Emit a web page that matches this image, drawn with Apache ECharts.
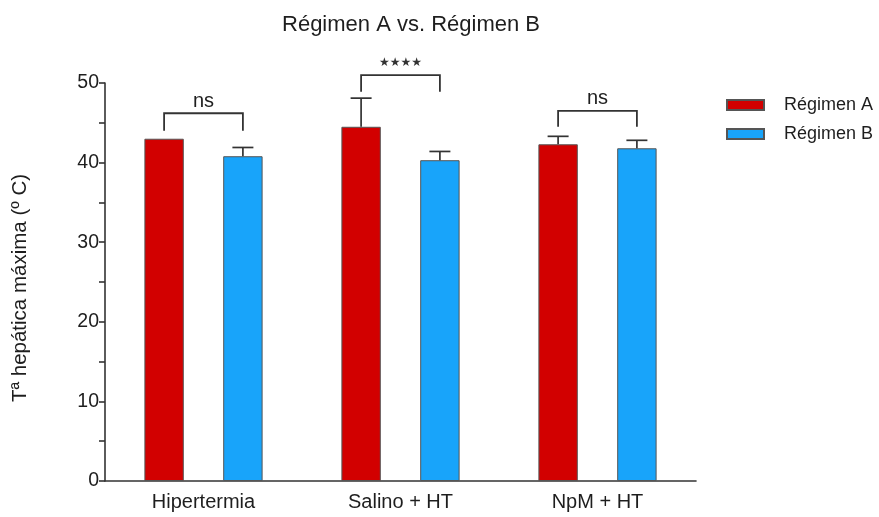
<!DOCTYPE html>
<html><head><meta charset="utf-8">
<script src="https://cdn.jsdelivr.net/npm/echarts@6/dist/echarts.min.js"></script>
<style>html,body{margin:0;padding:0;background:#fff}#c{width:879px;height:517px}</style>
</head><body><div id="c"></div>
<script>
const categories = ['Hipertermia', 'Salino + HT', 'NpM + HT'];
const seriesNames = ['Régimen A', 'Régimen B'];
const regimenA = [43.0, 44.5, 42.3];
const regimenB = [40.8, 40.3, 41.8];
const errA = [0, 3.6, 1.0];
const errB = [1.1, 1.1, 1.0];
const bracketTop = [46.2, 51.0, 46.5];
const bracketLeg = [44.0, 48.9, 44.5];
const sigLabels = ['ns', '★★★★', 'ns'];
const yTicks = [0, 10, 20, 30, 40, 50];

const FONT = '"Liberation Sans", Arial, Helvetica, sans-serif';
const TXT = '#1e1e1e';
const LINE = '#333';
const OFFSET = 0.2; // fraction of band width from category centre to each bar centre

function errRender(sign) {
  return function (params, api) {
    const i = api.value(0), v = api.value(1), e = api.value(2);
    if (!e) return null;
    const band = api.size([1, 0])[0];
    const p0 = api.coord([i, v]);
    const p1 = api.coord([i, v + e]);
    const x = p0[0] + sign * band * OFFSET;
    const half = 10.5;
    return {
      type: 'group',
      children: [
        { type: 'line', shape: { x1: x, y1: p0[1], x2: x, y2: p1[1] }, style: { stroke: LINE, lineWidth: 1.7 } },
        { type: 'line', shape: { x1: x - half, y1: p1[1], x2: x + half, y2: p1[1] }, style: { stroke: LINE, lineWidth: 1.7 } }
      ]
    };
  };
}

function bracketRender(params, api) {
  const i = api.value(0), top = api.value(1), leg = api.value(2);
  const label = sigLabels[params.dataIndex];
  const band = api.size([1, 0])[0];
  const pt = api.coord([i, top]);
  const pl = api.coord([i, leg]);
  const xl = pt[0] - band * OFFSET, xr = pt[0] + band * OFFSET;
  const stars = label.indexOf('★') >= 0;
  return {
    type: 'group',
    children: [
      { type: 'polyline', shape: { points: [[xl, pl[1]], [xl, pt[1]], [xr, pt[1]], [xr, pl[1]]] },
        style: { stroke: LINE, lineWidth: 1.8, fill: null } },
      { type: 'text', x: pt[0], y: pt[1] - (stars ? 6 : 2),
        style: { text: label, textAlign: 'center', textVerticalAlign: 'bottom',
          font: stars ? '12px "DejaVu Sans", sans-serif' : '20px ' + FONT, fill: stars ? '#333' : TXT } }
    ]
  };
}

const chart = echarts.init(document.getElementById('c'));
chart.setOption({
  animation: false,
  backgroundColor: '#fff',
  title: {
    text: 'Régimen A vs. Régimen B', left: 406, top: 9, textAlign: 'center',
    textStyle: { fontFamily: FONT, fontSize: 22, fontWeight: 'normal', color: TXT }
  },
  legend: {
    data: seriesNames, orient: 'vertical', left: 721, top: 91,
    itemWidth: 37, itemHeight: 10, itemGap: 11, icon: 'rect',
    textStyle: { fontFamily: FONT, fontSize: 18, color: TXT, padding: [0, 0, 0, 15] }
  },
  grid: { left: 105, right: 183, top: 83, bottom: 36 },
  xAxis: {
    type: 'category', data: categories,
    axisLine: { lineStyle: { color: LINE, width: 1.6 } },
    axisTick: { alignWithLabel: true, length: 6, lineStyle: { color: LINE, width: 1.6 } },
    axisLabel: { fontFamily: FONT, fontSize: 20, color: TXT, margin: 11 }
  },
  yAxis: {
    type: 'value', min: 0, max: 50, interval: 10,
    name: 'Tª hepática máxima (º C)', nameLocation: 'middle', nameGap: 74,
    nameTextStyle: { fontFamily: FONT, fontSize: 20.5, color: TXT, padding: [0, 12, 0, 0] },
    axisLine: { show: true, lineStyle: { color: LINE, width: 1.6 } },
    axisTick: { show: true, length: 6, lineStyle: { color: LINE, width: 1.6 } },
    minorTick: { show: true, splitNumber: 2, length: 6, lineStyle: { color: LINE, width: 1.6 } },
    splitLine: { show: false },
    axisLabel: { fontFamily: FONT, fontSize: 19.5, color: TXT, margin: 6,
      formatter: v => yTicks.indexOf(v) >= 0 ? String(v) : '' }
  },
  series: [
    { name: seriesNames[0], type: 'bar', data: regimenA, barGap: '100%', barCategoryGap: '40%',
      itemStyle: { color: '#d20000', borderColor: '#555', borderWidth: 1 } },
    { name: seriesNames[1], type: 'bar', data: regimenB,
      itemStyle: { color: '#18a4fa', borderColor: '#555', borderWidth: 1 } },
    { type: 'custom', renderItem: errRender(-1), z: 5, silent: true,
      data: regimenA.map((v, i) => [i, v, errA[i]]) },
    { type: 'custom', renderItem: errRender(1), z: 5, silent: true,
      data: regimenB.map((v, i) => [i, v, errB[i]]) },
    { type: 'custom', renderItem: bracketRender, z: 5, silent: true,
      data: bracketTop.map((v, i) => [i, v, bracketLeg[i]]) }
  ]
});
</script></body></html>
